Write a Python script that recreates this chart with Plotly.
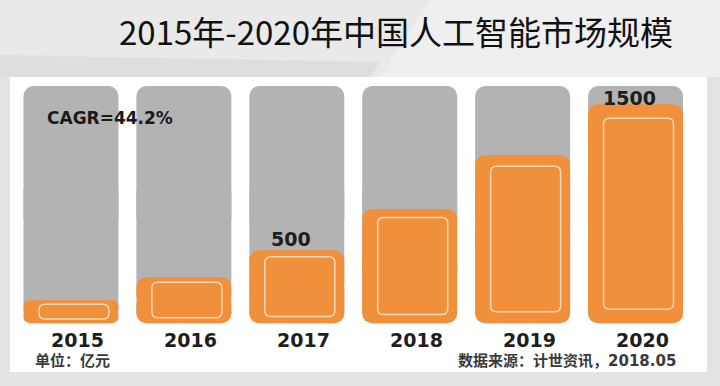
import plotly.graph_objects as go

# ---------------- data ----------------
years = ["2015", "2016", "2017", "2018", "2019", "2020"]
market_size = [157, 316, 500, 783, 1153, 1500]   # 亿元
track_max = 1625                                  # height of the grey background tracks
labelled_years = ["2017", "2020"]
cagr_text = "CAGR=44.2%"
title_text = "2015年-2020年中国人工智能市场规模"
unit_text = "单位：亿元"
source_text = "数据来源：计世资讯，2018.05"

# ---------------- style ----------------
GREY = "#b3b3b3"
ORANGE = "#f0903c"
INNER = "#fbd9b2"
NUM_FONT = "DejaVu Sans"
CJK_FONT = "Noto Sans CJK SC"
MIX_FONT = "DejaVu Sans, Noto Sans CJK SC"

W, H = 720, 386
PL, PR, PT, PB = 10, 707, 77, 372          # plot area (white panel) in pixels
x_range = [-0.540, 5.633]
y_range = [-335, 1687]
px_per_x = (PR - PL) / (x_range[1] - x_range[0])
units_per_px = (y_range[1] - y_range[0]) / (PB - PT)
BAR_W = 0.841
RADIUS = 10

idx = list(range(len(years)))

fig = go.Figure()


def rounded_bar(values, color, name):
    # upper half rounded at the top, lower half rounded at the bottom
    fig.add_trace(go.Bar(x=idx, y=[0.6 * v for v in values], base=[0.4 * v for v in values],
                         width=BAR_W, marker=dict(color=color, line=dict(width=0), cornerradius=RADIUS),
                         name=name, hoverinfo="skip", showlegend=False))
    fig.add_trace(go.Bar(x=idx, y=[-0.6 * v for v in values], base=[0.6 * v for v in values],
                         width=BAR_W, marker=dict(color=color, line=dict(width=0), cornerradius=RADIUS),
                         name=name, hoverinfo="skip", showlegend=False))


rounded_bar([track_max] * len(years), GREY, "track")
rounded_bar(market_size, ORANGE, "market")

# inner light outline inside each orange bar
shapes = []
for i, v in zip(idx, market_size):
    inset = 3 * units_per_px + 0.05 * v
    xc = i + 3 / px_per_x
    hw = 35 / px_per_x
    x0, x1 = xc - hw, xc + hw
    y0, y1 = inset, v - inset
    rx = 6 / px_per_x
    ry = min(6 * units_per_px, (y1 - y0) / 2)
    path = (f"M{x0 + rx},{y0} L{x1 - rx},{y0} Q{x1},{y0} {x1},{y0 + ry} "
            f"L{x1},{y1 - ry} Q{x1},{y1} {x1 - rx},{y1} L{x0 + rx},{y1} "
            f"Q{x0},{y1} {x0},{y1 - ry} L{x0},{y0 + ry} Q{x0},{y0} {x0 + rx},{y0} Z")
    shapes.append(dict(type="path", xref="x", yref="y", path=path,
                       line=dict(color=INNER, width=1.5), fillcolor="rgba(0,0,0,0)", layer="above"))


# background decoration (paper coords relative to plot area)
def px2paper(px, py):
    return (px - PL) / (PR - PL), (PB - py) / (PB - PT)


def poly(points, color):
    pts = [px2paper(*p) for p in points]
    d = "M" + " L".join(f"{x},{y}" for x, y in pts) + " Z"
    return dict(type="path", xref="paper", yref="paper", path=d, fillcolor=color,
                line=dict(width=0), layer="below")


bg_shapes = [
    poly([(0, 0), (430, 0), (380, 77), (0, 77)], "#e9e9e9"),
    poly([(0, 55), (380, 62), (370, 77), (0, 77)], "#dedede"),
    poly([(430, 0), (720, 0), (720, 77), (380, 77)], "#efefef"),
    poly([(0, 372), (720, 372), (720, 386), (0, 386)], "#e4e4e4"),
]

annotations = []
# year labels under the bars
for i, yr in zip(idx, years):
    annotations.append(dict(x=i, y=0, xref="x", yref="y", text=yr, showarrow=False,
                            xshift=7, yshift=-17, yanchor="middle",
                            font=dict(family=NUM_FONT, size=19, color="#1e1e1e", weight="bold")))
# value labels
for i, yr, v in zip(idx, years, market_size):
    if yr in labelled_years:
        annotations.append(dict(x=i, y=v, xref="x", yref="y", text=str(v), showarrow=False,
                                xshift=-6, yshift=11 if v < 1000 else 6, yanchor="middle",
                                font=dict(family=NUM_FONT, size=19, color="#1e1e1e", weight="bold")))
annotations += [
    dict(x=px2paper(45, 0)[0], y=px2paper(0, 118)[1], xref="paper", yref="paper", text=cagr_text,
         showarrow=False, xanchor="left", yanchor="middle",
         font=dict(family=NUM_FONT, size=17, color="#1a1a1a", weight="bold")),
    dict(x=px2paper(33, 0)[0], y=px2paper(0, 361)[1], xref="paper", yref="paper", text=unit_text,
         showarrow=False, xanchor="left", yanchor="middle",
         font=dict(family=MIX_FONT, size=15, color="#3a3a3a", weight="bold")),
    dict(x=px2paper(678, 0)[0], y=px2paper(0, 361)[1], xref="paper", yref="paper", text=source_text,
         showarrow=False, xanchor="right", yanchor="middle",
         font=dict(family=MIX_FONT, size=15, color="#3a3a3a", weight="bold")),
]

fig.update_layout(
    width=W, height=H,
    margin=dict(l=PL, r=W - PR, t=PT, b=H - PB, pad=0),
    paper_bgcolor="#e3e3e3",
    plot_bgcolor="#ffffff",
    barmode="overlay",
    showlegend=False,
    title=dict(text=title_text, x=396 / W, xanchor="center", y=1 - 33 / H, yanchor="middle",
               font=dict(family=CJK_FONT, size=33, color="#111111")),
    xaxis=dict(range=x_range, visible=False, fixedrange=True),
    yaxis=dict(range=y_range, visible=False, fixedrange=True),
    shapes=bg_shapes + shapes,
    annotations=annotations,
)

fig.write_html("out.html", config={"displayModeBar": False},
               post_script="document.body.style.margin='0';document.body.style.overflow='hidden';")
